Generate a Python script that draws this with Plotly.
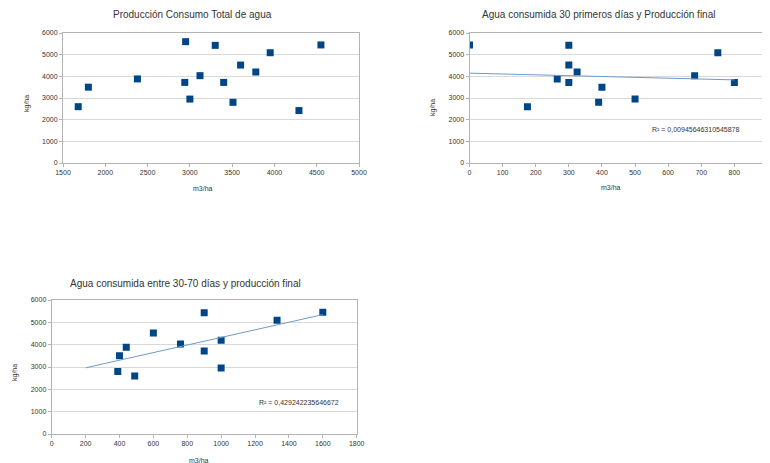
import numpy as np
import plotly.graph_objects as go

# ---- data ----
total_water = [1680, 1800, 2380, 2950, 2940, 3000, 3120, 3300, 3400, 3510, 3600, 3780, 3950, 4290, 4550]
total_prod = [2600, 3500, 3880, 5600, 3720, 2950, 4030, 5430, 3720, 2800, 4520, 4200, 5090, 2420, 5450]

first30_water = [0, 175, 265, 300, 300, 300, 325, 390, 400, 500, 680, 750, 800]
first30_prod = [5450, 2600, 3880, 5430, 4520, 3720, 4200, 2800, 3500, 2950, 4030, 5090, 3720]

mid_water = [390, 400, 440, 490, 600, 760, 900, 900, 1000, 1000, 1330, 1600]
mid_prod = [2800, 3500, 3880, 2600, 4520, 4030, 5430, 3720, 4200, 2950, 5090, 5450]

trend2_range = [0, 800]
trend3_range = [200, 1600]

titles = ["Producción Consumo Total de agua",
          "Agua consumida 30 primeros días y Producción final",
          "Agua consumida entre 30-70 días y producción final"]
r2_labels = ["R² = 0,00945646310545878", "R² = 0,429242235646672"]

OFF = 8  # default page body margin
W, H = 770 - OFF, 463 - OFF
FONT = "Liberation Sans, Arial, sans-serif"
MARK = "#004586"
TREND = "#6f9bc9"

def px(x):
    return (x - OFF) / W

def py(y):
    return 1 - (y - OFF) / H

fig = go.Figure()

mk = dict(symbol="square", size=7, color=MARK)
fig.add_trace(go.Scatter(x=total_water, y=total_prod, mode="markers", marker=mk,
                         xaxis="x", yaxis="y", showlegend=False))
fig.add_trace(go.Scatter(x=first30_water, y=first30_prod, mode="markers", marker=mk,
                         xaxis="x2", yaxis="y2", showlegend=False))
fig.add_trace(go.Scatter(x=mid_water, y=mid_prod, mode="markers", marker=mk,
                         xaxis="x3", yaxis="y3", showlegend=False))

# trendlines (least squares)
s2, b2 = np.polyfit(first30_water, first30_prod, 1)
tx2 = np.array(trend2_range, dtype=float)
fig.add_trace(go.Scatter(x=tx2, y=s2 * tx2 + b2, mode="lines",
                         line=dict(color=TREND, width=1), xaxis="x2", yaxis="y2", showlegend=False))
s3, b3 = np.polyfit(mid_water, mid_prod, 1)
tx3 = np.array(trend3_range, dtype=float)
fig.add_trace(go.Scatter(x=tx3, y=s3 * tx3 + b3, mode="lines",
                         line=dict(color=TREND, width=1), xaxis="x3", yaxis="y3", showlegend=False))

axcommon = dict(showline=True, linecolor="#b3b3b3", linewidth=1, mirror=True,
                ticks="outside", ticklen=3, tickcolor="#b3b3b3", automargin=False,
                ticklabeloverflow="allow",
                tickfont=dict(family=FONT, size=7, color="#333333"), zeroline=False)

def xax(dom, rng, dt, anchor):
    return dict(domain=dom, range=rng, dtick=dt, tick0=0, showgrid=False, anchor=anchor, **axcommon)

def yax(dom, anchor):
    return dict(domain=dom, range=[0, 6000], dtick=1000, showgrid=True, gridcolor="#d9d9d9",
                gridwidth=1, anchor=anchor, **axcommon)

fig.update_layout(
    width=W, height=H,
    margin=dict(l=0, r=0, t=0, b=0, pad=0),
    paper_bgcolor="white", plot_bgcolor="white",
    xaxis=xax([px(63), px(359)], [1500, 5000], 500, "y"),
    yaxis=yax([py(163), py(33)], "x"),
    xaxis2=xax([px(469.5), min(1.0, px(767.5))], [0, 900], 100, "y2"),
    yaxis2=yax([py(163), py(33)], "x2"),
    xaxis3=xax([px(51.7), px(356.7)], [0, 1800], 200, "y3"),
    yaxis3=yax([py(434), py(300)], "x3"),
)

ann = []
def text(t, x, y, size, angle=0, color="#333333"):
    ann.append(dict(text=t, x=px(x), y=py(y), xref="paper", yref="paper",
                    showarrow=False, xanchor="center", yanchor="middle", textangle=angle,
                    font=dict(family=FONT, size=size, color=color)))

text(titles[0], 192, 15, 10)
text(titles[1], 598, 15, 10)
text(titles[2], 185, 283, 10)
text("m3/ha", 203, 189, 7)
text("m3/ha", 611, 188, 7)
text("m3/ha", 199, 460, 7)
text("kg/ha", 27, 104, 7, -90)
text("kg/ha", 433, 108, 7, -90)
text("kg/ha", 15, 373, 7, -90)
text(r2_labels[0], 695, 130, 7)
text(r2_labels[1], 299, 402, 7)
fig.update_layout(annotations=ann)

fig.write_html("out.html")
